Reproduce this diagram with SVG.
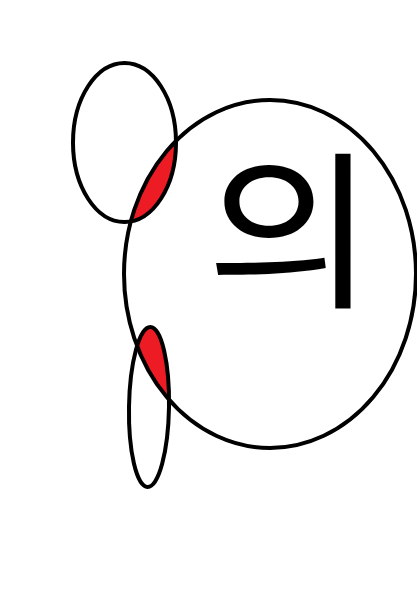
<svg xmlns="http://www.w3.org/2000/svg" width="417" height="613" viewBox="0 0 417 613">
<style>
.o{fill:none;stroke:#000;stroke-width:4}
.r{fill:#ED1C24}
.t{font-family:"Noto Sans CJK KR","Noto Sans",sans-serif;font-size:170px;fill:#000}
</style>
<defs>
<clipPath id="big"><ellipse cx="270" cy="274" rx="146" ry="174"/></clipPath>
</defs>
<rect width="417" height="613" fill="#fff"/>
<g id="fills" clip-path="url(#big)">
<ellipse class="r" cx="124.5" cy="142.5" rx="51.5" ry="79.5"/>
<ellipse class="r" cx="149" cy="407" rx="20" ry="80"/>
</g>
<g id="big-ellipse"><ellipse class="o" cx="270" cy="274" rx="146" ry="174"/></g>
<g id="top-ellipse"><ellipse class="o" cx="124.5" cy="142.5" rx="51.5" ry="79.5"/></g>
<g id="bottom-ellipse"><ellipse class="o" cx="149" cy="407" rx="20" ry="80" transform="rotate(1 149 407)"/></g>
<g id="label" transform="translate(290.5,295) scale(1.08,1)"><text class="t" x="0" y="0" text-anchor="middle">의</text></g>
</svg>
